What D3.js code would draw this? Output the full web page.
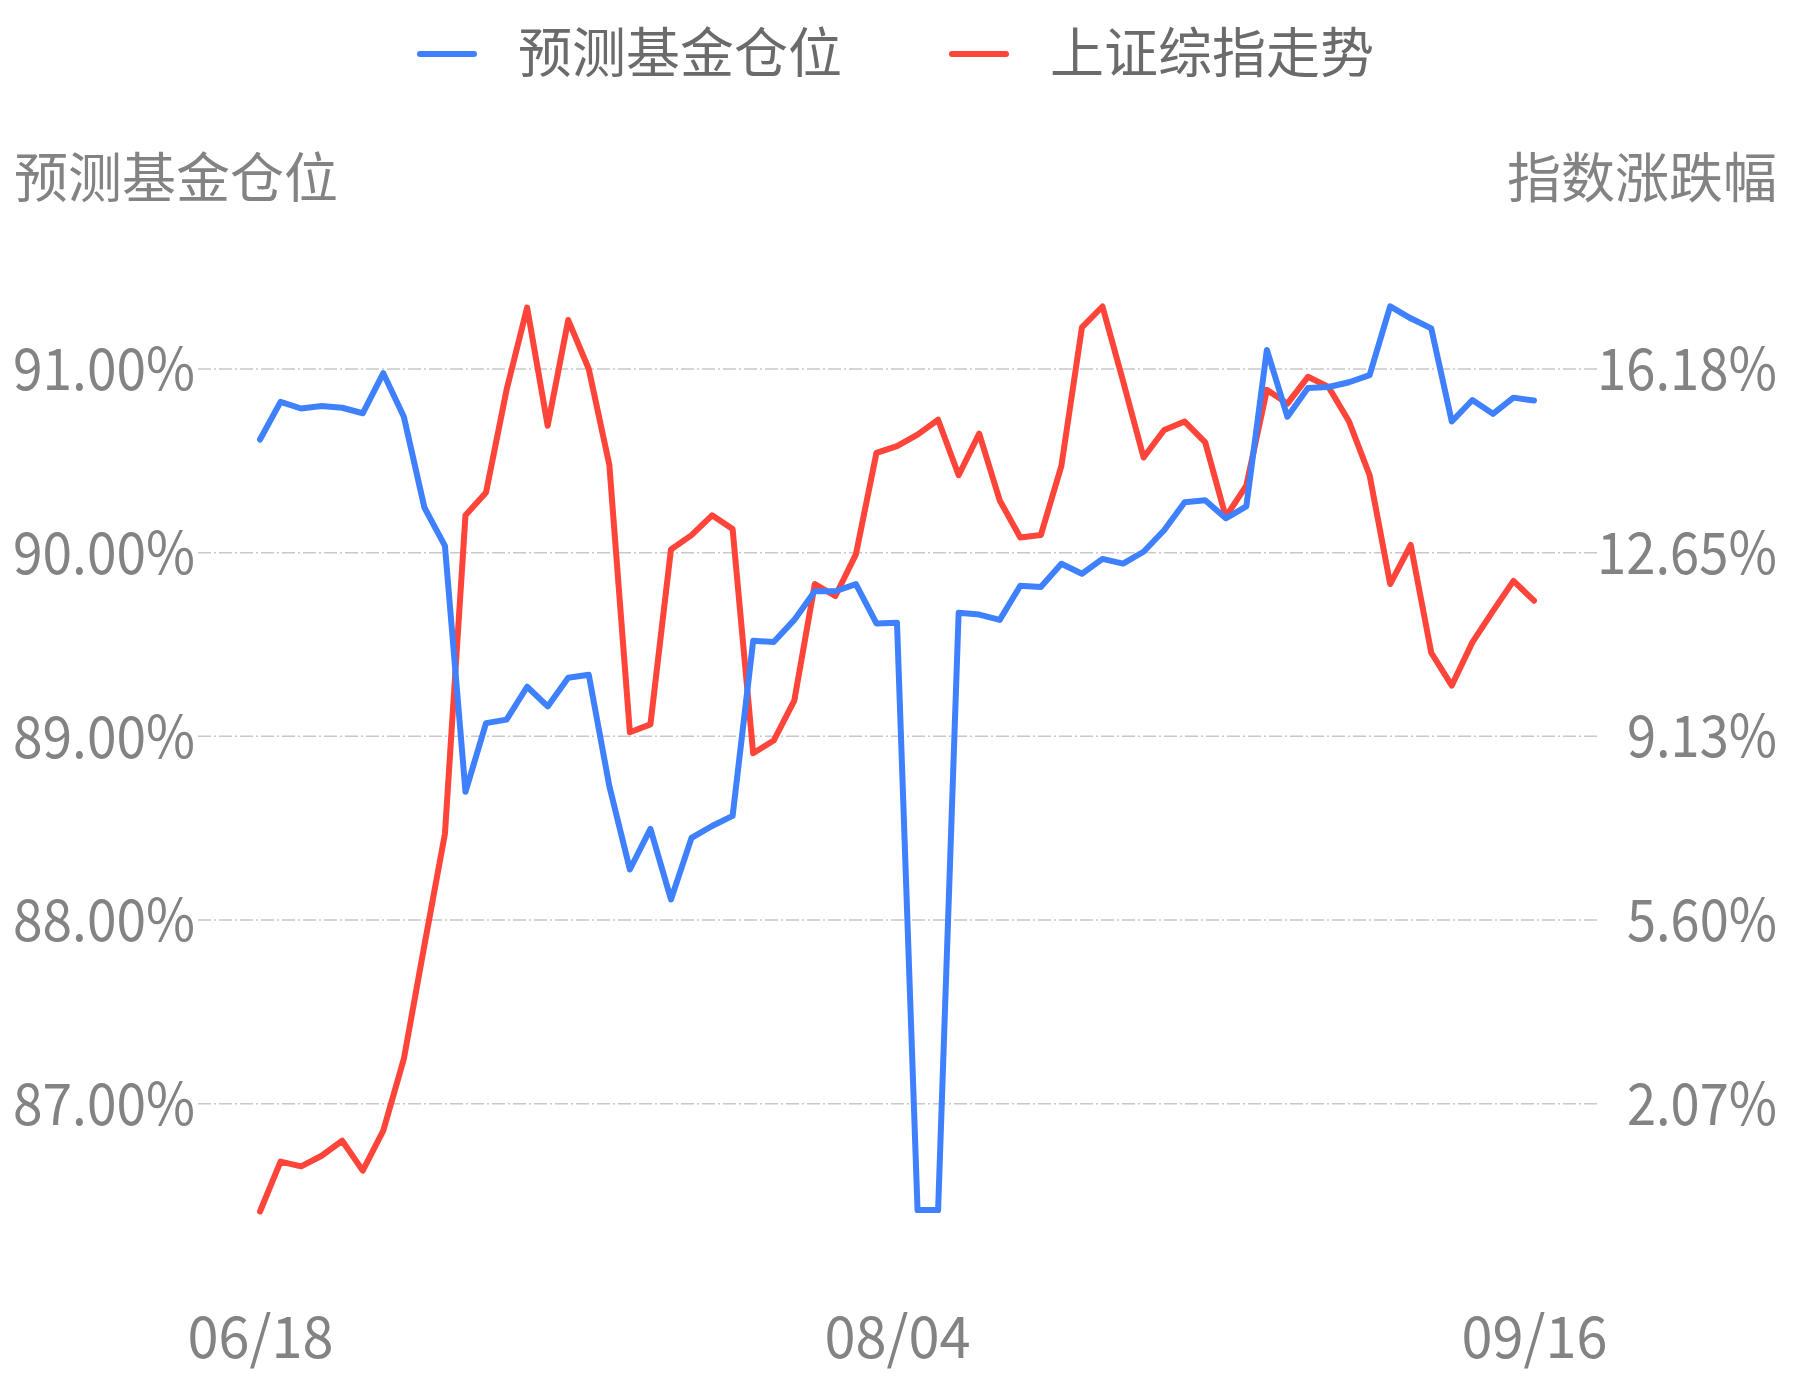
<!DOCTYPE html>
<html>
<head>
<meta charset="utf-8">
<script src="https://cdn.jsdelivr.net/npm/d3@7"></script>
<style>
  body { margin: 0; background: #fff; }
  text { font-family: "Noto Sans CJK SC", "Noto Sans", sans-serif; }
</style>
</head>
<body>
<div id="chart"></div>
<script>
// trading days, 2020-06-18 .. 2020-09-16
const dates = [
  "06/18","06/19","06/22","06/23","06/24","06/29","06/30",
  "07/01","07/02","07/03","07/06","07/07","07/08","07/09","07/10","07/13","07/14","07/15","07/16","07/17",
  "07/20","07/21","07/22","07/23","07/24","07/27","07/28","07/29","07/30","07/31",
  "08/03","08/04","08/05","08/06","08/07","08/10","08/11","08/12","08/13","08/14","08/17","08/18","08/19",
  "08/20","08/21","08/24","08/25","08/26","08/27","08/28","08/31",
  "09/01","09/02","09/03","09/04","09/07","09/08","09/09","09/10","09/11","09/14","09/15","09/16"
];

// 预测基金仓位 (%)
const position = [
  90.616, 90.821, 90.785, 90.798, 90.789, 90.759, 90.977, 90.740, 90.246, 90.037,
  88.698, 89.072, 89.091, 89.270, 89.163, 89.319, 89.335, 88.730, 88.275, 88.496,
  88.112, 88.447, 88.512, 88.567, 89.520, 89.514, 89.634, 89.790, 89.790, 89.829,
  89.615, 89.618, 86.421, 86.421, 89.673, 89.663, 89.634, 89.820, 89.813, 89.940,
  89.885, 89.966, 89.940, 90.005, 90.122, 90.275, 90.285, 90.187, 90.252, 91.104,
  90.740, 90.896, 90.902, 90.928, 90.967, 91.341, 91.276, 91.221, 90.714, 90.831,
  90.756, 90.844, 90.828
];

// 上证综指走势, 涨跌幅 (%)
const indexChange = [
  0.000, 0.957, 0.865, 1.071, 1.358, 0.784, 1.553, 2.930, 5.110, 7.255,
  13.370, 13.810, 15.780, 17.360, 15.090, 17.120, 16.180, 14.340, 9.205, 9.354,
  12.715, 12.990, 13.370, 13.105, 8.800, 9.044, 9.810, 12.050, 11.820, 12.620,
  14.570, 14.700, 14.920, 15.205, 14.140, 14.940, 13.656, 12.945, 12.990, 14.320,
  16.980, 17.380, 15.950, 14.480, 15.010, 15.170, 14.770, 13.340, 13.940, 15.780,
  15.515, 16.030, 15.836, 15.170, 14.140, 12.050, 12.800, 10.730, 10.100, 10.930,
  11.530, 12.110, 11.730
];

const leftTicks = [87, 88, 89, 90, 91];
const rightTicks = [2.07, 5.60, 9.13, 12.65, 16.18];
const xTicks = ["06/18", "08/04", "09/16"];
const seriesNames = ["预测基金仓位", "上证综指走势"];
const axisTitles = ["预测基金仓位", "指数涨跌幅"];

const W = 1793, H = 1380;
const blue = "#3f80ff", red = "#ff4439";
const labelColor = "#838383";

const svg = d3.select("#chart").append("svg")
  .attr("width", W)
  .attr("height", H);

const x = d3.scalePoint()
  .domain(dates)
  .range([260, 1534]);

const yL = d3.scaleLinear()
  .domain([87, 91])
  .range([1103.7, 369]);

const yR = d3.scaleLinear()
  .domain([2.07, 16.18])
  .range([1103.7, 369]);

// grid lines
svg.append("g")
  .selectAll("line")
  .data(leftTicks)
  .enter()
  .append("line")
    .attr("x1", 198)
    .attr("x2", 1597)
    .attr("y1", d => yL(d))
    .attr("y2", d => yL(d))
    .attr("stroke", "#c8c8c8")
    .attr("stroke-width", 1.5)
    .attr("stroke-dasharray", "13,3,2,3");

// left axis
const axisL = svg.append("g")
  .attr("transform", "translate(195,0)")
  .call(d3.axisLeft(yL).tickValues(leftTicks).tickSize(0).tickPadding(0)
    .tickFormat(d => d.toFixed(2) + "%"));
axisL.select(".domain").remove();
axisL.selectAll("text")
  .attr("fill", labelColor)
  .attr("font-size", 58)
  .attr("dy", "0.36em")
  .attr("textLength", 182)
  .attr("lengthAdjust", "spacingAndGlyphs");

// right axis, labels right-aligned at the edge
const axisR = svg.append("g")
  .attr("transform", "translate(1777,0)")
  .call(d3.axisLeft(yR).tickValues(rightTicks).tickSize(0).tickPadding(0)
    .tickFormat(d => d.toFixed(2) + "%"));
axisR.select(".domain").remove();
axisR.selectAll("text")
  .attr("fill", labelColor)
  .attr("font-size", 58)
  .attr("dy", "0.36em")
  .attr("textLength", d => d >= 10 ? 180 : 150)
  .attr("lengthAdjust", "spacingAndGlyphs");

// bottom axis
const axisB = svg.append("g")
  .attr("transform", "translate(0,1317)")
  .call(d3.axisBottom(x).tickValues(xTicks).tickSize(0).tickPadding(0));
axisB.select(".domain").remove();
axisB.selectAll("text")
  .attr("fill", labelColor)
  .attr("font-size", 58)
  .attr("dy", "0.71em")
  .attr("textLength", 146)
  .attr("lengthAdjust", "spacingAndGlyphs");

// axis titles
svg.append("text")
  .attr("x", 14)
  .attr("y", 198)
  .attr("fill", labelColor)
  .attr("font-size", 54)
  .text(axisTitles[0]);

svg.append("text")
  .attr("x", 1777)
  .attr("y", 198)
  .attr("text-anchor", "end")
  .attr("fill", labelColor)
  .attr("font-size", 54)
  .text(axisTitles[1]);

// lines
const lineL = d3.line()
  .x((d, i) => x(dates[i]))
  .y(d => yL(d));
const lineR = d3.line()
  .x((d, i) => x(dates[i]))
  .y(d => yR(d));

svg.append("path")
  .datum(indexChange)
  .attr("fill", "none")
  .attr("stroke", red)
  .attr("stroke-width", 6)
  .attr("stroke-linejoin", "round")
  .attr("stroke-linecap", "round")
  .attr("d", lineR);

svg.append("path")
  .datum(position)
  .attr("fill", "none")
  .attr("stroke", blue)
  .attr("stroke-width", 6)
  .attr("stroke-linejoin", "round")
  .attr("stroke-linecap", "round")
  .attr("d", lineL);

// legend
const legendItems = [
  {name: seriesNames[0], color: blue, x: 417},
  {name: seriesNames[1], color: red, x: 949}
];
const lg = svg.append("g")
  .selectAll("g")
  .data(legendItems)
  .enter()
  .append("g")
    .attr("transform", d => `translate(${d.x},54)`);
lg.append("line")
  .attr("x1", 3).attr("x2", 57)
  .attr("y1", 0).attr("y2", 0)
  .attr("stroke", d => d.color)
  .attr("stroke-width", 6)
  .attr("stroke-linecap", "round");
lg.append("text")
  .attr("x", 101)
  .attr("y", 0)
  .attr("dy", "0.35em")
  .attr("fill", "#6b6b6b")
  .attr("font-size", 54)
  .text(d => d.name);
</script>
</body>
</html>
